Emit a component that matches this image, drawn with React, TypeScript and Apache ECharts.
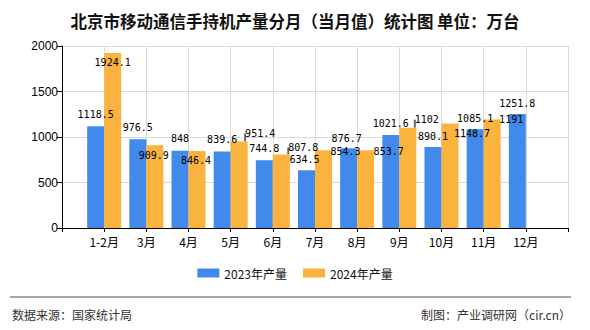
import React, { useEffect, useRef } from "react";
import * as echarts from "echarts";

const categories = ["1-2月", "3月", "4月", "5月", "6月", "7月", "8月", "9月", "10月", "11月", "12月"];
const yTicks = [0, 500, 1000, 1500, 2000];
const values2023 = [1118.5, 976.5, 848, 839.6, 744.8, 634.5, 876.7, 1021.6, 890.1, 1085.1, 1251.8];
const values2024: (number | null)[] = [1924.1, 909.9, 846.4, 951.4, 807.8, 854.3, 853.7, 1102, 1148.7, 1191, null];

// label placement tweaks (not data)
const offsets2023: [number, number][] = [
  [0, 0], [0, 0], [0, 0], [0, 0], [0, 0], [-2, 1], [-2, 2], [0, 0], [0, 1], [0, 1], [0, 1],
];
const offsets2024: [number, number][] = [
  [0, 22], [-1, 22], [-1, 22], [21, 4], [22, 5], [22, 13], [23, 13], [19, 4], [22, 22], [19, 12], [0, 0],
];
const leader2024 = [false, false, false, true, true, false, false, true, true, false, false];

export default function App() {
  const ref = useRef<HTMLDivElement>(null);
  useEffect(() => {
    if (!ref.current) return;
    const chart = echarts.init(ref.current, undefined, { renderer: "svg" });
    const axisCats = ["", ...categories, ""];
    const labelFont = { fontFamily: "DejaVu Sans Mono", fontSize: 10, color: "#000" };
    const d2023 = ["-", ...values2023, "-"];
    const d2024 = [
      "-",
      ...values2024.map((v, i) =>
        v == null
          ? "-"
          : {
              value: v,
              labelLine: { show: leader2024[i], lineStyle: { color: "#666", width: 2 } },
            }
      ),
      "-",
    ];
    const layoutFor = (offs: [number, number][]) => (params: any) => {
      const o = offs[params.dataIndex - 1] || [0, 0];
      return { dx: o[0], dy: o[1] };
    };
    chart.setOption({
      animation: false,
      backgroundColor: "#fff",
      title: {
        text: "北京市移动通信手持机产量分月（当月值）统计图 单位：万台",
        left: "center",
        top: 8,
        textStyle: { fontFamily: "Noto Sans CJK SC", fontSize: 16.5, fontWeight: "bold", color: "#111" },
      },
      grid: { left: 62, right: 22, top: 46, bottom: 102 },
      legend: {
        bottom: 46,
        left: "center",
        itemWidth: 22,
        itemHeight: 9,
        itemGap: 16,
        icon: "rect",
        textStyle: { fontFamily: "Noto Sans CJK SC", fontSize: 12, color: "#111" },
        data: ["2023年产量", "2024年产量"],
      },
      xAxis: {
        type: "category",
        data: axisCats,
        boundaryGap: false,
        axisLine: { lineStyle: { color: "#000", width: 1 } },
        axisTick: { show: true, length: 4, interval: 0, lineStyle: { color: "#000" } },
        axisLabel: { interval: 0, color: "#000", fontSize: 12, fontFamily: "Noto Sans CJK SC", margin: 7 },
        splitLine: { show: true, interval: 0, lineStyle: { color: "#d9d9d9" } },
      },
      yAxis: {
        type: "value",
        min: yTicks[0],
        max: yTicks[yTicks.length - 1],
        interval: 500,
        axisLine: { show: true, lineStyle: { color: "#000" } },
        axisTick: { show: true, length: 5, lineStyle: { color: "#000" } },
        axisLabel: {
          color: "#000",
          fontSize: 12,
          fontFamily: "Liberation Sans",
          margin: 4,
          formatter: (v: number) => String(v),
        },
        splitLine: { show: true, lineStyle: { color: "#d9d9d9" } },
      },
      graphic: [
        { type: "line", shape: { x1: 10, y1: 297, x2: 571, y2: 297 }, style: { stroke: "#888", lineWidth: 1.5 } },
        {
          type: "text",
          left: 12,
          top: 308,
          style: { text: "数据来源：国家统计局", fontFamily: "Noto Sans CJK SC", fontSize: 12, fill: "#333" },
        },
        {
          type: "text",
          right: 19,
          top: 308,
          style: { text: "制图：产业调研网（cir.cn）", fontFamily: "Noto Sans CJK SC", fontSize: 12, fill: "#333" },
        },
      ],
      series: [
        {
          name: "2023年产量",
          type: "bar",
          data: d2023,
          barWidth: 17,
          barGap: "0%",
          itemStyle: { color: "#418aec" },
          label: { show: true, position: "top", distance: 7, ...labelFont },
          labelLayout: layoutFor(offsets2023),
        },
        {
          name: "2024年产量",
          type: "bar",
          data: d2024,
          barWidth: 17,
          barGap: "0%",
          itemStyle: { color: "#fbb33f" },
          label: { show: true, position: "top", distance: 7, ...labelFont },
          labelLayout: layoutFor(offsets2024),
        },
      ],
    });
    return () => chart.dispose();
  }, []);
  return <div ref={ref} style={{ width: 590, height: 330, position: "absolute", left: 0, top: 0 }} />;
}
